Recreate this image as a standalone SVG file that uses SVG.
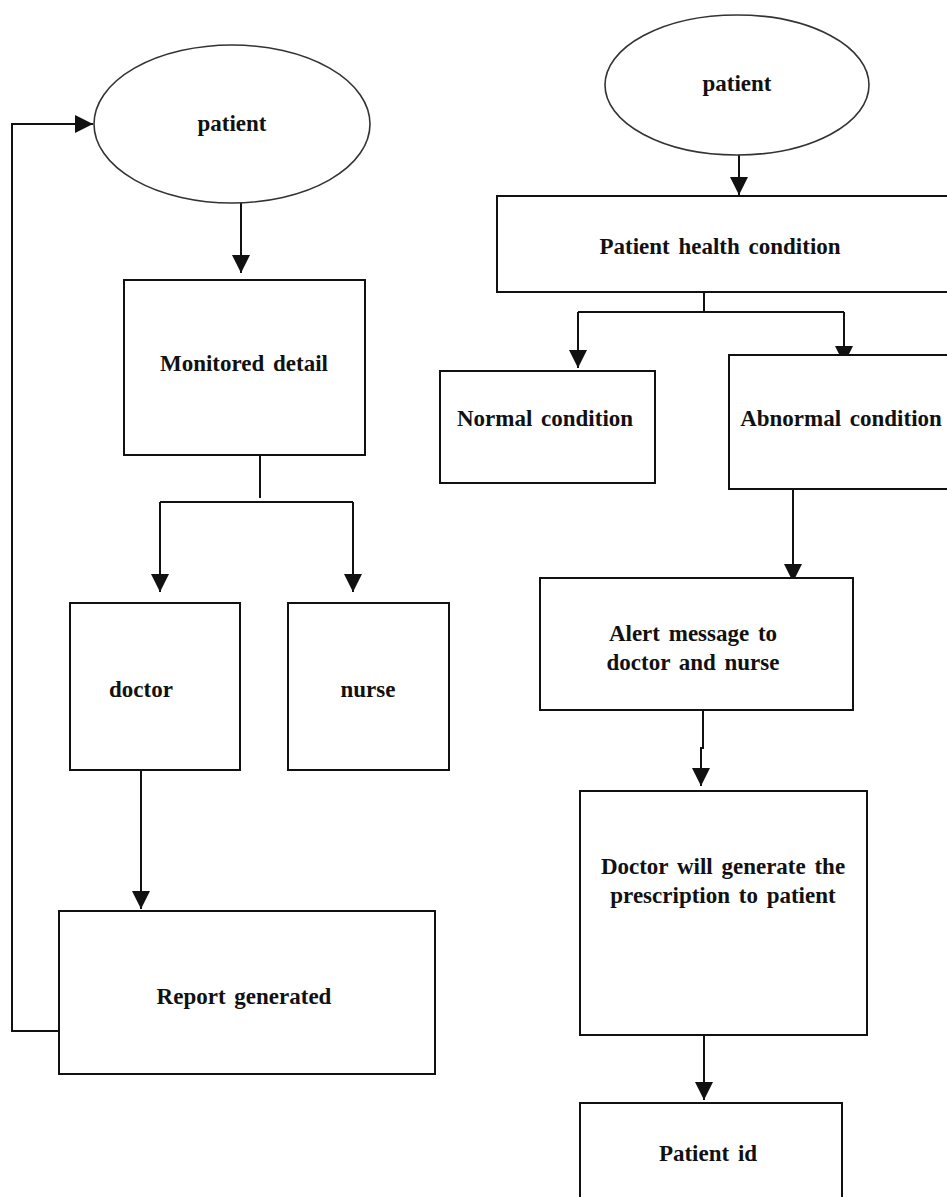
<svg xmlns="http://www.w3.org/2000/svg" width="947" height="1197" viewBox="0 0 947 1197">
<style>
.box{fill:#fff;stroke:#111;stroke-width:2}
.ell{fill:#fff;stroke:#333;stroke-width:1.6}
.t{font-family:"Liberation Serif","Times New Roman",serif;font-weight:bold;font-size:23px;word-spacing:3px;fill:#111;text-anchor:middle}
.c{fill:none;stroke:#111;stroke-width:2}
</style>
<defs>
<marker id="ah" markerUnits="userSpaceOnUse" markerWidth="18" markerHeight="18" refX="18" refY="9" orient="auto" viewBox="0 0 18 18">
<path d="M0,0 L18,9 L0,18 z" fill="#111"/>
</marker>
</defs>
<rect width="947" height="1197" fill="#fff"/>
<g id="connectors">
<path class="c" d="M241,203 V273" marker-end="url(#ah)"/>
<path class="c" d="M260,455 V498"/>
<path class="c" d="M160,502 H353"/>
<path class="c" d="M160,502 V592" marker-end="url(#ah)"/>
<path class="c" d="M353,502 V592" marker-end="url(#ah)"/>
<path class="c" d="M141,770 V909" marker-end="url(#ah)"/>
<path class="c" d="M59,1031 H12 V124 H93" marker-end="url(#ah)"/>
<path class="c" d="M739,148 V195" marker-end="url(#ah)"/>
<path class="c" d="M704,292 V312"/>
<path class="c" d="M578,312 H844"/>
<path class="c" d="M578,312 V368" marker-end="url(#ah)"/>
<path class="c" d="M844,312 V364" marker-end="url(#ah)"/>
<path class="c" d="M793,484 V582" marker-end="url(#ah)"/>
<path class="c" d="M703,710 V748 H701 V786" marker-end="url(#ah)"/>
<path class="c" d="M704,1035 V1100" marker-end="url(#ah)"/>
</g>
<g id="patient-left">
<ellipse class="ell" cx="232" cy="124" rx="138" ry="79"/>
<text class="t" x="232" y="131">patient</text>
</g>
<g id="monitored">
<rect class="box" x="124" y="280" width="241" height="175"/>
<text class="t" x="244" y="371">Monitored detail</text>
</g>
<g id="doctor">
<rect class="box" x="70" y="603" width="170" height="167"/>
<text class="t" x="141" y="697">doctor</text>
</g>
<g id="nurse">
<rect class="box" x="288" y="603" width="161" height="167"/>
<text class="t" x="368" y="697">nurse</text>
</g>
<g id="report">
<rect class="box" x="59" y="911" width="376" height="163"/>
<text class="t" x="244" y="1004">Report generated</text>
</g>
<g id="patient-right">
<ellipse class="ell" cx="737" cy="85" rx="132" ry="70"/>
<text class="t" x="737" y="91">patient</text>
</g>
<g id="health">
<rect class="box" x="497" y="196" width="455" height="96"/>
<text class="t" x="720" y="254">Patient health condition</text>
</g>
<g id="normal">
<rect class="box" x="440" y="371" width="215" height="112"/>
<text class="t" x="545" y="426">Normal condition</text>
</g>
<g id="abnormal">
<rect class="box" x="729" y="355" width="225" height="134"/>
<text class="t" x="841" y="426">Abnormal condition</text>
</g>
<g id="alert">
<rect class="box" x="540" y="578" width="313" height="132"/>
<text class="t" x="693" y="641">Alert message to</text>
<text class="t" x="693" y="670">doctor and nurse</text>
</g>
<g id="prescription">
<rect class="box" x="580" y="791" width="287" height="244"/>
<text class="t" x="723" y="874">Doctor will generate the</text>
<text class="t" x="723" y="903">prescription to patient</text>
</g>
<g id="patient-id">
<rect class="box" x="580" y="1103" width="262" height="110"/>
<text class="t" x="708" y="1161">Patient id</text>
</g>
</svg>
